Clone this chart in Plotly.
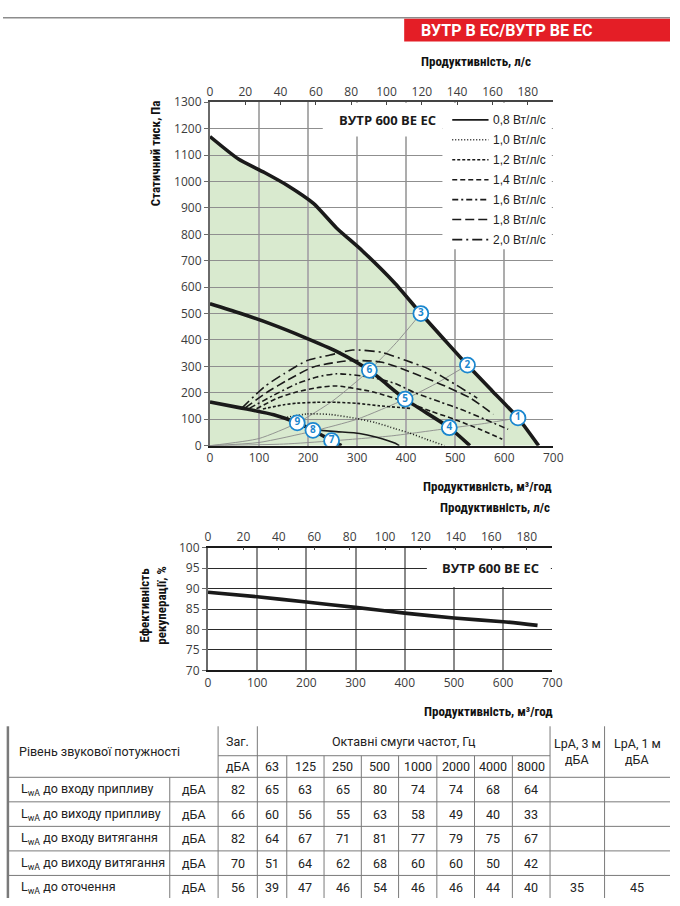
import plotly.graph_objects as go

W, H = 680, 906

# ---------------- data ----------------
flow_m3h_ticks = [0, 100, 200, 300, 400, 500, 600, 700]
flow_ls_ticks = [0, 20, 40, 60, 80, 100, 120, 140, 160, 180]
pressure_ticks = list(range(0, 1400, 100))
eff_ticks = [70, 75, 80, 85, 90, 95, 100]

fan_max_q = [0, 58, 111, 158, 211, 258, 311, 378, 430, 478, 525, 575, 628, 670]
fan_max_p = [1170, 1085, 1034, 985, 917, 824, 737, 613, 500, 401, 305, 208, 105, 0]
fan_mid_q = [0, 60, 125, 190, 258, 325, 398, 488, 530]
fan_mid_p = [537, 502, 460, 412, 357, 285, 176, 68, 0]
fan_min_q = [0, 65, 130, 178, 210, 248, 268]
fan_min_p = [165, 142, 117, 86, 58, 19, 0]

sys1_q = [0, 150, 248, 370, 488, 560, 628]
sys1_p = [0, 6, 18, 37, 66, 84, 105]
sys2_q = [0, 100, 210, 300, 398, 460, 525]
sys2_p = [0, 12, 55, 100, 176, 234, 305]
sys3_q = [0, 100, 178, 250, 325, 380, 430]
sys3_p = [0, 27, 86, 169, 285, 390, 500]

sfp08_q = [210, 258, 305, 338, 378, 386]
sfp08_p = [60, 53, 46, 33, 9, 0]
sfp10_q = [151, 198, 245, 298, 338, 378, 405, 440, 478]
sfp10_p = [105, 120, 118, 103, 87, 64, 49, 25, 0]
sfp12_q = [108, 151, 178, 218, 258, 300, 345, 408]
sfp12_p = [139, 155, 161, 164, 164, 160, 151, 141]
sfp14_q = [95, 138, 178, 218, 258, 331, 405, 451, 498, 550, 596]
sfp14_p = [140, 180, 204, 219, 226, 204, 162, 130, 100, 62, 24]
sfp16_q = [81, 131, 178, 218, 258, 325, 378, 418, 470, 511, 560, 608]
sfp16_p = [142, 192, 235, 260, 272, 260, 235, 200, 165, 138, 100, 62]
sfp18_q = [71, 118, 158, 211, 285, 351, 418, 480, 531, 578]
sfp18_p = [142, 204, 248, 298, 322, 316, 272, 225, 180, 118]
sfp20_q = [65, 111, 151, 198, 245, 291, 351, 400, 445, 500, 545]
sfp20_p = [142, 223, 272, 322, 343, 362, 353, 322, 291, 232, 180]
sfp_names = ["0,8 Вт/л/с", "1,0 Вт/л/с", "1,2 Вт/л/с", "1,4 Вт/л/с",
             "1,6 Вт/л/с", "1,8 Вт/л/с", "2,0 Вт/л/с"]

circ_q = [628, 525, 430, 488, 398, 325, 248, 210, 178]
circ_p = [105, 305, 500, 68, 176, 285, 19, 58, 86]
circ_lbl = ["1", "2", "3", "4", "5", "6", "7", "8", "9"]

eff_q = [0, 100, 200, 300, 400, 500, 600, 670]
eff_pct = [89.1, 88.0, 86.7, 85.4, 84.0, 82.8, 81.9, 81.0]

band_labels = ["63", "125", "250", "500", "1000", "2000", "4000", "8000"]
row_labels = ["до входу припливу", "до виходу припливу", "до входу витягання",
              "до виходу витягання", "до оточення"]
row_units = ["дБА", "дБА", "дБА", "дБА", "дБА"]
total_dba = [82, 66, 82, 70, 56]
band_rows = [
    [65, 63, 65, 80, 74, 74, 68, 64],
    [60, 56, 55, 63, 58, 49, 40, 33],
    [64, 67, 71, 81, 77, 79, 75, 67],
    [51, 64, 62, 68, 60, 60, 50, 42],
    [39, 47, 46, 54, 46, 46, 44, 40],
]
lpa_3m = ["", "", "", "", "35"]
lpa_1m = ["", "", "", "", "45"]

# ---------------- styling ----------------
def px(x):
    return x / W

def py(y):
    return 1 - y / H

TICK_FONT = dict(family="Open Sans, Liberation Sans, sans-serif", size=12, color="#3c3c3c")
BOLD_FAM = "Liberation Sans Narrow, Roboto Condensed, Roboto, sans-serif"
TABLE_FONT = dict(family="Liberation Sans Narrow, Roboto, sans-serif", size=12.5, color="#222")
LEG_FONT = dict(family="Liberation Sans, Arial, sans-serif", size=12, color="#222")
BLACK = "#1a1a1a"
BLUE = "#1b87cf"
GREEN = "rgb(217,234,207)"

fig = go.Figure()

# system (network) lines
for q, p in [(sys1_q, sys1_p), (sys2_q, sys2_p), (sys3_q, sys3_p)]:
    fig.add_trace(go.Scatter(x=q, y=p, mode="lines", xaxis="x", yaxis="y",
                             line=dict(color="#8a8a8a", width=0.9, shape="spline", smoothing=0.6),
                             showlegend=False, hoverinfo="skip"))

# SFP curves
sfp_data = [(sfp08_q, sfp08_p), (sfp10_q, sfp10_p), (sfp12_q, sfp12_p), (sfp14_q, sfp14_p),
            (sfp16_q, sfp16_p), (sfp18_q, sfp18_p), (sfp20_q, sfp20_p)]
sfp_dash = ["solid", "1px,2px", "3px,2px", "5px,3px", "6px,3px,2px,3px", "9px,4px", "10px,4px,2px,4px"]
for (q, p), nm, d in zip(sfp_data, sfp_names, sfp_dash):
    fig.add_trace(go.Scatter(x=q, y=p, mode="lines", name=nm, xaxis="x", yaxis="y",
                             line=dict(color=BLACK, width=1.6, dash=d, shape="spline", smoothing=0.6),
                             showlegend=False, hoverinfo="skip"))

# fan curves
for q, p in [(fan_max_q, fan_max_p), (fan_mid_q, fan_mid_p), (fan_min_q, fan_min_p)]:
    fig.add_trace(go.Scatter(x=q, y=p, mode="lines", xaxis="x", yaxis="y",
                             line=dict(color=BLACK, width=3.6, shape="spline", smoothing=0.6),
                             showlegend=False, hoverinfo="skip"))

# numbered working points
fig.add_trace(go.Scatter(x=circ_q, y=circ_p, mode="markers+text", text=circ_lbl,
                         textposition="middle center", xaxis="x", yaxis="y",
                         textfont=dict(family="Open Sans, sans-serif", size=10, color=BLUE, weight="bold"),
                         marker=dict(size=15, color="white", line=dict(color=BLUE, width=1.8)),
                         showlegend=False, hoverinfo="skip"))

# l/s axis helper traces (invisible)
fig.add_trace(go.Scatter(x=[0], y=[0], xaxis="x2", yaxis="y", mode="markers",
                         marker=dict(opacity=0), showlegend=False, hoverinfo="skip"))

# efficiency curve
fig.add_trace(go.Scatter(x=eff_q, y=eff_pct, mode="lines", xaxis="x3", yaxis="y3",
                         line=dict(color=BLACK, width=3.6, shape="spline", smoothing=0.6),
                         showlegend=False, hoverinfo="skip"))
fig.add_trace(go.Scatter(x=[0], y=[80], xaxis="x4", yaxis="y3", mode="markers",
                         marker=dict(opacity=0), showlegend=False, hoverinfo="skip"))

shapes = []
# green working area (below grid)
path = "M 0,0 " + " ".join(f"L {q},{p}" for q, p in zip(fan_max_q, fan_max_p)) + " Z"
shapes.append(dict(type="path", path=path, xref="x", yref="y", layer="below",
                   fillcolor=GREEN, line=dict(width=0)))
# white masks behind title and legend (top chart)
shapes.append(dict(type="rect", xref="x", yref="y", x0=230, x1=474, y0=1170, y1=1298,
                   layer="between", fillcolor="white", line=dict(width=0)))
shapes.append(dict(type="rect", xref="x", yref="y", x0=474, x1=697, y0=743, y1=1298,
                   layer="between", fillcolor="white", line=dict(width=0)))
# white mask behind title (bottom chart)
shapes.append(dict(type="rect", xref="x3", yref="y3", x0=445, x1=697, y0=90.4, y1=99.8,
                   layer="between", fillcolor="white", line=dict(width=0)))

# header
shapes.append(dict(type="line", xref="paper", yref="paper", x0=0, x1=1, y0=py(9), y1=py(9),
                   line=dict(color="#8c8c8c", width=1.5)))
shapes.append(dict(type="rect", xref="paper", yref="paper", x0=px(409), x1=1, y0=py(33), y1=py(10),
                   fillcolor="#e41e26", line=dict(width=0)))

annotations = []

def txt(x, y, s, font, xanchor="center", yanchor="middle", **kw):
    if s == "":
        return
    annotations.append(dict(x=px(x), y=py(y), xref="paper", yref="paper", text=s,
                            showarrow=False, xanchor=xanchor, yanchor=yanchor, font=font, **kw))

# legend of SFP lines (sample + label)
leg_y = [113, 133.3, 153.6, 174, 194.3, 214.6, 235]
for yy, nm, d in zip(leg_y, sfp_names, sfp_dash):
    shapes.append(dict(type="line", xref="paper", yref="paper", x0=px(458), x1=px(495),
                       y0=py(yy), y1=py(yy), line=dict(color=BLACK, width=1.6, dash=d)))
    txt(498, yy, nm, LEG_FONT, xanchor="left")

# ---------------- table ----------------
col_x = [5, 170, 219.3, 259.3, 289.3, 327.3, 365.3, 403.3, 442.3, 480.7, 519.3, 557.7, 613.3, 680]
row_y = [783, 808, 833, 858, 883, 908]
t_top, t_mid = 731, 761
LC = "#7a7a7a"

def hline(y, x0, x1, w=1):
    shapes.append(dict(type="line", xref="paper", yref="paper", x0=px(x0), x1=px(x1),
                       y0=py(y), y1=py(y), line=dict(color=LC, width=w)))

def vline(x, y0, y1, w=1):
    shapes.append(dict(type="line", xref="paper", yref="paper", x0=px(x), x1=px(x),
                       y0=py(y0), y1=py(y1), line=dict(color=LC, width=w)))

vline(col_x[0], t_top, H, 2.5)
vline(col_x[1], row_y[0], H)
for i in [2, 3, 11, 12]:
    vline(col_x[i], t_top, H)
for i in range(4, 11):
    vline(col_x[i], t_mid, H)
hline(t_mid, col_x[2], col_x[11])
for y in row_y[:-1]:
    hline(y, col_x[0], W)

def cx(i):
    return (col_x[i] + col_x[i + 1]) / 2

txt(14, 757, "Рівень звукової потужності", TABLE_FONT, xanchor="left")
txt(cx(2), 746, "Заг.", TABLE_FONT)
txt(cx(2), 772, "дБА", TABLE_FONT)
txt((col_x[3] + col_x[11]) / 2, 746, "Октавні смуги частот, Гц", TABLE_FONT)
for j, b in enumerate(band_labels):
    txt(cx(3 + j), 772, b, TABLE_FONT)
txt(cx(11), 749, "LpA, 3 м", TABLE_FONT)
txt(cx(11), 765, "дБА", TABLE_FONT)
txt(cx(12), 749, "LpA, 1 м", TABLE_FONT)
txt(cx(12), 765, "дБА", TABLE_FONT)
for r in range(5):
    yc = (row_y[r] + row_y[r + 1]) / 2
    txt(16, yc, "L<sub>wA</sub> " + row_labels[r], TABLE_FONT, xanchor="left")
    txt(cx(1), yc, row_units[r], TABLE_FONT)
    txt(cx(2), yc, str(total_dba[r]), TABLE_FONT)
    for j, v in enumerate(band_rows[r]):
        txt(cx(3 + j), yc, str(v), TABLE_FONT)
    txt(cx(11), yc, lpa_3m[r], TABLE_FONT)
    txt(cx(12), yc, lpa_1m[r], TABLE_FONT)

# ---------------- chart texts ----------------
AX_TITLE = dict(family=BOLD_FAM, size=13, color="#111", weight="bold")
txt(424, 21.5, "ВУТР В ЕС/ВУТР ВЕ ЕС",
    dict(family="Roboto, sans-serif", size=16, color="white", weight="bold"), xanchor="left")
txt(540, 53, "Продуктивність, л/с", AX_TITLE, xanchor="right")
txt(562, 487, "Продуктивність, м³/год", AX_TITLE, xanchor="right")
txt(560, 508, "Продуктивність, л/с", AX_TITLE, xanchor="right")
txt(563, 716, "Продуктивність, м³/год", AX_TITLE, xanchor="right")
txt(155, 147, "Статичний тиск, Па", AX_TITLE, textangle=-90)
txt(153, 608, "Ефективність<br>рекуперації, %", AX_TITLE, textangle=-90)
CHART_TITLE = dict(family="Open Sans, sans-serif", size=13, color="#1a1a1a", weight="bold")
txt(392, 113, "ВУТР 600 ВЕ ЕС", CHART_TITLE)
txt(497, 570, "ВУТР 600 ВЕ ЕС", CHART_TITLE)

# ---------------- axes ----------------
top_dom_x = [px(211), px(561)]
top_dom_y = [py(445), py(95)]
bot_dom_x = [px(209), px(560)]
bot_dom_y = [py(674), py(549)]
LS_MAX = 700 / 3.6

fig.update_layout(
    width=W, height=H, margin=dict(l=0, r=0, t=0, b=0),
    paper_bgcolor="white", plot_bgcolor="white", showlegend=False,
    xaxis=dict(domain=top_dom_x, anchor="y", range=[0, 700], tickvals=flow_m3h_ticks,
               showgrid=True, gridcolor="#adadad", gridwidth=1.6, zeroline=False,
               showline=True, linecolor=BLACK, linewidth=2, ticks="", tickfont=TICK_FONT),
    xaxis2=dict(overlaying="x", side="top", anchor="y", range=[0, LS_MAX], tickvals=flow_ls_ticks,
                showgrid=False, zeroline=False, showline=True, linecolor="#444", linewidth=1.5,
                ticks="inside", ticklen=3, tickcolor="#444", tickfont=TICK_FONT),
    yaxis=dict(domain=top_dom_y, anchor="x", range=[0, 1300], tickvals=pressure_ticks,
               showgrid=True, gridcolor="#8f8f8f", gridwidth=1, zeroline=False,
               showline=True, linecolor="#6a6a6a", linewidth=2, ticks="outside", ticklen=4,
               tickcolor="#6a6a6a", tickfont=TICK_FONT),
    xaxis3=dict(domain=bot_dom_x, anchor="y3", range=[0, 700], tickvals=flow_m3h_ticks,
                showgrid=True, gridcolor="#8a8a8a", gridwidth=1.6, zeroline=False,
                showline=True, linecolor=BLACK, linewidth=2, ticks="", tickfont=TICK_FONT),
    xaxis4=dict(overlaying="x3", side="top", anchor="y3", range=[0, LS_MAX], tickvals=flow_ls_ticks,
                showgrid=False, zeroline=False, showline=True, linecolor=BLACK, linewidth=1.5,
                ticks="inside", ticklen=3, tickcolor="#444", tickfont=TICK_FONT),
    yaxis3=dict(domain=bot_dom_y, anchor="x3", range=[70, 100], tickvals=eff_ticks,
                showgrid=True, gridcolor="#2a2a2a", gridwidth=1, zeroline=False,
                showline=True, linecolor="#6a6a6a", linewidth=2, ticks="outside", ticklen=4,
                tickcolor="#6a6a6a", tickfont=TICK_FONT),
    shapes=shapes, annotations=annotations,
)

fig.write_html("out.html", config={"displayModeBar": False},
               post_script="document.body.style.margin='0';")
